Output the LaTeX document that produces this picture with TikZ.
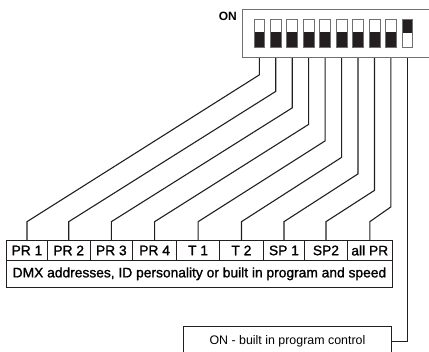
\documentclass[tikz,border=0pt]{standalone}
\usepackage{fontspec}
\setmainfont{Liberation Sans}
\newfontfamily\semibold[FakeBold=1.2]{Liberation Sans}
\usetikzlibrary{calc}
\definecolor{ink}{HTML}{231F20}
\definecolor{frame}{HTML}{707070}
\begin{document}
\begin{tikzpicture}[x=1pt,y=-1pt,
  wire/.style={draw=ink,line width=1.1pt,line join=miter},
  cell/.style={draw=ink,line width=0.9pt,inner sep=0pt,anchor=north west,
    minimum height=20pt,font=\semibold\fontsize{13.8}{15}\selectfont},
  dipbox/.style={draw=frame,line width=0.9pt,inner sep=0pt,anchor=north west},
  swbody/.style={inner sep=0pt,minimum width=10.5pt,minimum height=27.4pt},
  swframe/.style={draw=frame,line width=0.7pt},
  onlabel/.style={font=\bfseries\fontsize{12}{13}\selectfont,anchor=east,inner sep=0pt}]
\useasboundingbox (0,0) rectangle (429,352);

% DIP switch block
\node[dipbox,minimum width=195pt,minimum height=48pt] (dip) at (242.3,9.3) {};
\node[onlabel] (onlbl) at (237,16) {ON};
\foreach \i in {1,...,10}{
  \node[swbody] (sw\i) at ({259.3+16.45*(\i-1)},33) {};
}
\foreach \i in {1,...,9}{
  \fill[ink] (sw\i.south west) rectangle ($(sw\i.east)+(0,-1.3)$);
  \draw[swframe] (sw\i.south west) rectangle (sw\i.north east);
}
\fill[ink] (sw10.north west) rectangle ($(sw10.east)+(0,0.3)$);
\draw[swframe] (sw10.south west) rectangle (sw10.north east);

% label row
\foreach \l/\r/\t [count=\i] in {6/47/PR 1,47/89.5/PR 2,89.5/132.3/PR 3,
   132.3/176/PR 4,176/219.3/T 1,219.3/262.7/T 2,262.7/304.3/SP 1,
   304.3/346.7/SP2,346.7/392/all PR}{
  \pgfmathsetmacro\w{\r-\l}
  \node[cell,minimum width=\w pt] (c\i) at (\l,240) {\t};
}
\node[cell,minimum width=386pt,minimum height=26.7pt] (dmx) at (6,260)
  {DMX addresses, ID personality or built in program and speed};

% ON box
\node[draw=ink,line width=0.9pt,inner sep=0pt,anchor=north west,
  minimum width=207.4pt,minimum height=30pt,
  font=\fontsize{12.4}{14}\selectfont] (onbox) at (183.3,326)
  {ON - built in program control};

% wires
\foreach \i in {1,...,9}{
  \draw[wire] (dip.south -| sw\i) -- ++(0,{16.7+16.5*(\i-1)})
     -- ($(c\i.north)+(0,-18.3)$) -- (c\i.north);
}
\draw[wire] (dip.south -| sw10) |- (onbox.east);
\end{tikzpicture}
\end{document}
